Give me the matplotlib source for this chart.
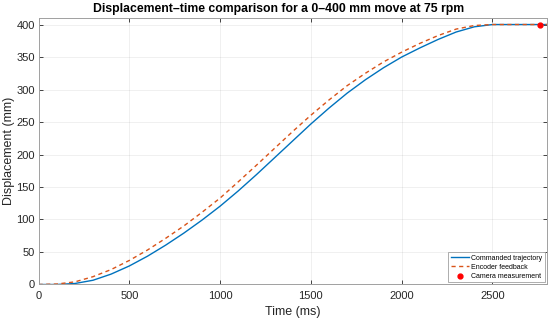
import matplotlib
matplotlib.use("Agg")
import matplotlib.pyplot as plt

# Data
t_ms = [0, 100, 200, 300, 400, 500, 600, 700, 800, 900, 1000, 1100, 1200, 1300,
        1400, 1500, 1600, 1700, 1800, 1900, 2000, 2100, 2200, 2300, 2400, 2500,
        2600, 2700, 2800]
commanded = [0, 0, 1.5, 6.5, 16, 28.5, 43.5, 60.5, 79, 99, 120.5, 144, 169, 195,
             221, 247, 271.5, 294.5, 315, 333.5, 350, 364, 377, 388.5, 396.5, 400,
             400, 400, 400]
encoder = [0, 0.7, 4, 12, 23, 37, 53, 71, 90, 111, 133, 158, 183.5, 209.5,
           235.5, 260.5, 284, 306, 325, 342.5, 357.5, 371, 383, 393, 398.5, 400,
           400, 400, 400]
camera_t = [2760]
camera_s = [400]

xticks = [0, 500, 1000, 1500, 2000, 2500]
yticks = [0, 50, 100, 150, 200, 250, 300, 350, 400]

plt.rcParams['font.family'] = ['Liberation Sans', 'DejaVu Sans']

fig = plt.figure(figsize=(5.5, 3.22), dpi=100)
ax = fig.add_axes([0.070, 0.1165, 0.9245, 0.8275])

ax.plot(t_ms, commanded, color='#0072BD', lw=1.0, label='Commanded trajectory')
ax.plot(t_ms, encoder, color='#D95319', lw=1.0, ls=(0, (3, 2.5)), label='Encoder feedback')
ax.plot(camera_t, camera_s, 'o', color='#FF0000', ms=3.5, ls='none', label='Camera measurement')

ax.set_xlim(0, 2800)
ax.set_ylim(0, 410)
ax.set_xticks(xticks)
ax.set_yticks(yticks)
ax.grid(True, color='#262626', alpha=0.08, lw=0.6)
ax.tick_params(direction='in', length=3, width=0.6, labelsize=8, colors='#262626',
               top=True, right=True, labeltop=False, labelright=False)
ax.tick_params(axis='x', pad=5)
ax.tick_params(axis='y', pad=2.5)
for sp in ax.spines.values():
    sp.set_color('#a0a0a0')
    sp.set_linewidth(0.7)

ax.set_xlabel('Time (ms)', fontsize=9, color='#262626', labelpad=3)
ax.set_ylabel('Displacement (mm)', fontsize=9, color='#262626', labelpad=1)
ax.set_title('Displacement\u2013time comparison for a 0\u2013400 mm move at 75 rpm',
             fontsize=8.8, fontweight='bold', color='#000000', pad=4, x=0.473)

leg = ax.legend(loc='lower right', fontsize=5, frameon=True, fancybox=False,
                edgecolor='#a0a0a0', framealpha=1, borderpad=0.35, labelspacing=0.3,
                handlelength=2.6, handletextpad=0.4, borderaxespad=0.3)
leg.get_frame().set_linewidth(0.6)

fig.savefig('out.png', dpi=100)
